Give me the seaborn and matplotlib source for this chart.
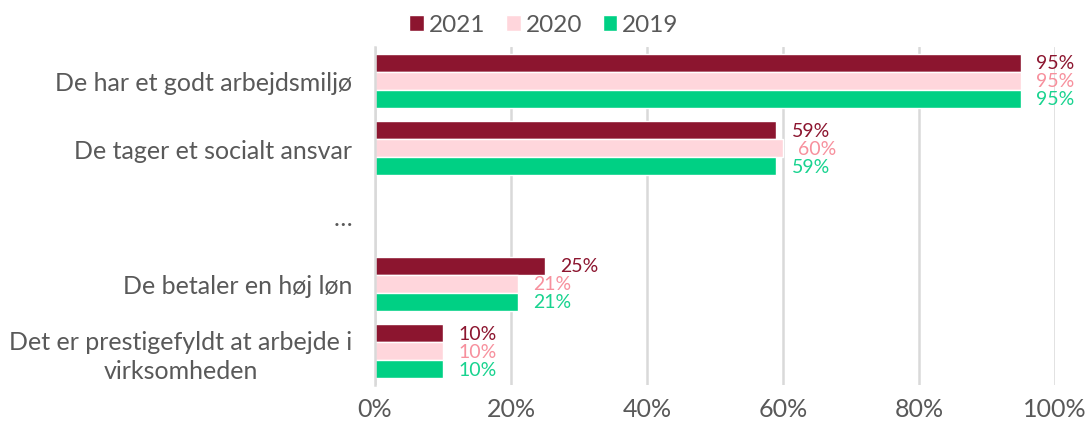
import numpy as np
import pandas as pd
import matplotlib
matplotlib.use("Agg")
import matplotlib.pyplot as plt
import seaborn as sns
from matplotlib.patches import Patch
from matplotlib.ticker import PercentFormatter

categories = ["De har et godt arbejdsmiljø",
              "De tager et socialt ansvar",
              "…",
              "De betaler en høj løn",
              "Det er prestigefyldt at arbejde i\nvirksomheden"]
years = ["2021", "2020", "2019"]
v2021 = [95, 59, np.nan, 25, 10]
v2020 = [95, 60, np.nan, 21, 10]
v2019 = [95, 59, np.nan, 21, 10]
xticks = [0, 20, 40, 60, 80, 100]

bar_colors = {"2021": "#8C152F", "2020": "#FFD6DC", "2019": "#00D084"}
label_colors = {"2021": "#8C152F", "2020": "#F7909D", "2019": "#18D38F"}

rows = []
for y, vals in zip(years, [v2021, v2020, v2019]):
    for c, v in zip(categories, vals):
        rows.append({"cat": c, "year": y, "val": v})
df = pd.DataFrame(rows)

sns.set_theme(style="white")
plt.rcParams["font.family"] = ["Lato", "DejaVu Sans"]
plt.rcParams["font.weight"] = "normal"

fig = plt.figure(figsize=(10.88, 4.27), dpi=100)
ax = fig.add_axes([375/1088, 1-386/427, 680/1088, 338/427])

sns.barplot(data=df, y="cat", x="val", hue="year", order=categories,
            hue_order=years, palette=bar_colors, orient="h", ax=ax,
            width=0.8, saturation=1, legend=False, errorbar=None)

ax.set_xlim(0, 100)
ax.set_xticks(xticks)
ax.xaxis.set_major_formatter(PercentFormatter(decimals=0))
ax.set_xlabel("")
ax.set_ylabel("")
ax.grid(axis="x", color="#D9D9D9", linewidth=1.8)
ax.set_axisbelow(True)
for s in ["top", "right", "bottom"]:
    ax.spines[s].set_visible(False)
ax.spines["left"].set_color("#D9D9D9")
ax.spines["left"].set_linewidth(1.8)
ax.tick_params(axis="x", labelsize=18, colors="#595959", pad=9, length=0)
ax.tick_params(axis="y", labelsize=18, colors="#595959", pad=16.5, length=0)
for lbl in ax.get_yticklabels():
    lbl.set_multialignment("center")
    lbl.set_linespacing(1.3)

for cont, y in zip(ax.containers, years):
    for bar in cont:
        w = bar.get_width()
        if np.isnan(w) or w == 0:
            continue
        ax.annotate(f"{w:.0f}%", (w, bar.get_y() + bar.get_height()/2),
                    xytext=(11, 0), textcoords="offset points",
                    va="center", ha="left", fontsize=14,
                    color=label_colors[y])

handles = [Patch(facecolor=bar_colors[y], label=y) for y in years]
leg = fig.legend(handles=handles, loc="upper center", bbox_to_anchor=(0.5, 1.015),
                 ncol=3, frameon=False, fontsize=17.5, handlelength=0.6,
                 handleheight=0.6, handletextpad=0.2, columnspacing=0.85)
for t in leg.get_texts():
    t.set_color("#595959")

fig.savefig("out.png", dpi=100)
